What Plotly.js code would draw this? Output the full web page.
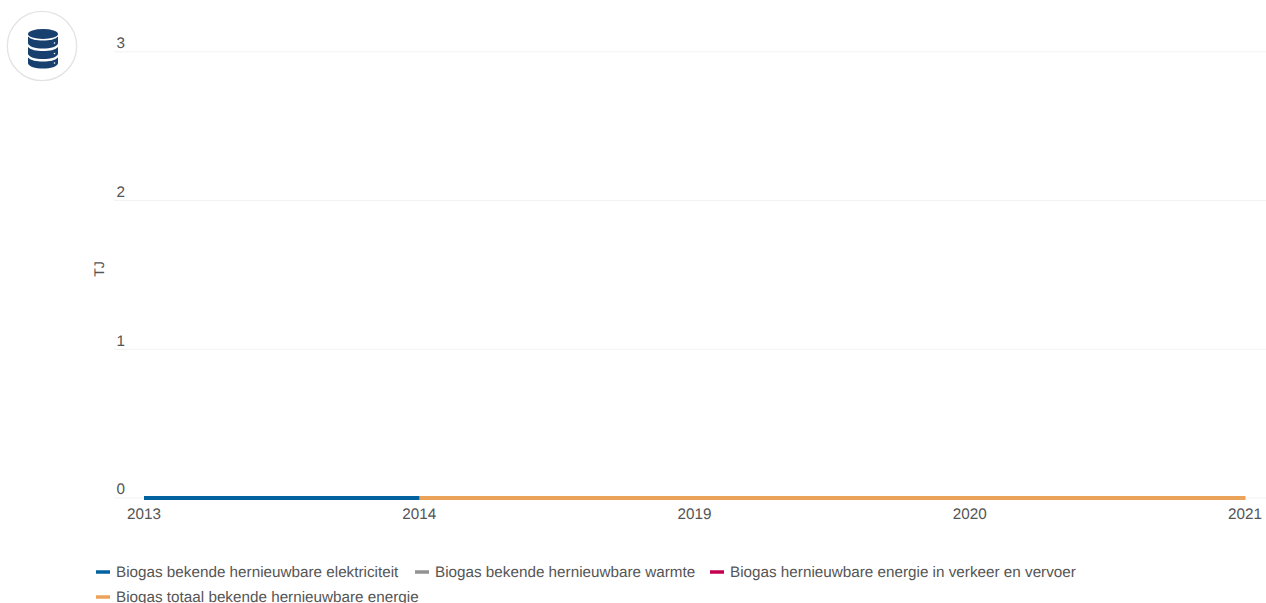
<!DOCTYPE html>
<html>
<head>
<meta charset="utf-8">
<script src="https://cdn.plot.ly/plotly-3.0.1.min.js"></script>
<style>
html,body{margin:0;padding:0;background:#fff;overflow:hidden;width:1266px;height:603px}
#chart{position:absolute;left:0;top:0;width:1266px;height:640px}
#icon{position:absolute;left:6px;top:10px;width:72px;height:72px}
#chart text{text-rendering:geometricPrecision}
</style>
</head>
<body>
<div id="chart"></div>
<svg id="icon" viewBox="0 0 72 72">
  <circle cx="36" cy="36" r="34.7" fill="#fff" stroke="#e3e3e3" stroke-width="1.3"/>
  <g fill="#17406f">
    <ellipse cx="37" cy="24" rx="15" ry="5"/>
    <path d="M22 26.5c3 3 8 4 15 4s12-1 15-4v7c-1 3-7 5-15 5s-14-2-15-5z"/>
    <path d="M22 37c3 3 8 4 15 4s12-1 15-4v7c-1 3-7 5-15 5s-14-2-15-5z"/>
    <path d="M22 47.500c3 3 8 4 15 4s12-1 15-4v6c-1 3-7 5-15 5s-14-2-15-5z"/>
  </g>
  <g fill="#fff"><circle cx="48.500" cy="33" r=".8"/><circle cx="48.500" cy="43.500" r=".8"/><circle cx="48.500" cy="53" r=".8"/></g>
</svg>
<script>
const years = ['2013','2014','2019','2020','2021'];
const elektriciteit = [0,0,0,0,0];
const warmte = [null,0,0,0,0];
const verkeer = [null,0,0,0,0];
const totaal = [null,0,0,0,0];
const yTicks = [0,1,2,3];
const names = ['Biogas bekende hernieuwbare elektriciteit','Biogas bekende hernieuwbare warmte','Biogas hernieuwbare energie in verkeer en vervoer','Biogas totaal bekende hernieuwbare energie'];
const colors = ['#0063a0','#929292','#c4004f','#eba359'];
const seriesValues = [elektriciteit,warmte,verkeer,totaal];
const font = {family:'"Liberation Sans", Arial, sans-serif',size:15.25,color:'#555555'};

const traces = seriesValues.map((v,i)=>({
  type:'scatter',mode:'lines',x:years,y:v,name:names[i],
  line:{color:colors[i],width:4},connectgaps:false,cliponaxis:false
}));

const padTop = 0.16, padBot = 0.08, unit = 148.5;
const layout = {
  width:1266,height:640,
  margin:{l:114,r:0,t:52.2-padTop*unit,b:142.3-padBot*unit,pad:0},
  paper_bgcolor:'#fff',plot_bgcolor:'#fff',
  font:font,showlegend:true,
  hovermode:'x',
  shapes:yTicks.map(t=>({type:'line',layer:'below',xref:'paper',x0:0,x1:1,yref:'y',y0:t,y1:t,line:{color:'#f2f2f2',width:1}})),
  xaxis:{type:'category',categoryorder:'array',categoryarray:years,range:[-0.109,4.076],
    anchor:'free',position:padBot/(3+padTop+padBot),
    showgrid:false,zeroline:false,showline:false,
    ticks:'',tickfont:font,ticklabelstandoff:5,automargin:false},
  yaxis:{range:[-padBot,3+padTop],tickvals:yTicks,ticktext:yTicks.map(String),
    showgrid:false,zeroline:false,showline:false,
    ticks:'',tickfont:font,ticklabelposition:'outside',ticklabelstandoff:-12,ticklabelshift:-9,
    title:{text:'TJ',font:{family:font.family,size:14,color:'#555555'},standoff:8},automargin:false},
  legend:{orientation:'h',x:0,xanchor:'left',xref:'container',y:0.135,yanchor:'top',yref:'container',
    font:font,bgcolor:'rgba(0,0,0,0)',entrywidthmode:'pixels',entrywidth:300,itemwidth:30,traceorder:'normal',itemclick:false,itemdoubleclick:false}
};

// Legend layout of the source: short keys, three entries on the first row
const keyX = [96,415,710,96], rowY = [572,572,572,597];
function tidyLegend(){
  const g = document.querySelectorAll('#chart .legend .traces');
  const lg = document.querySelector('#chart .legend');
  if(lg){ lg.setAttribute('transform','translate(0,0)');
    lg.querySelectorAll('.legendtoggle').forEach(t=>t.setAttribute('width','0'));
    const bg=lg.querySelector('.bg'); if(bg) bg.style.display='none';
    const sb=lg.querySelector('.scrollbox'); if(sb) {sb.setAttribute('transform','translate(0,0)'); sb.removeAttribute('clip-path'); sb.style.clipPath='none';}
    lg.querySelectorAll('.groups').forEach(x=>x.setAttribute('transform','translate(0,0)'));
  }
  g.forEach((t,i)=>{
    t.setAttribute('transform',`translate(${keyX[i]},${rowY[i]})`);
    const p=t.querySelector('.legendlines path'); if(p){p.setAttribute('d','M0,0h14'); p.style.strokeWidth='3.5px';}
    const tx=t.querySelector('text.legendtext'); if(tx){tx.setAttribute('x','20'); tx.setAttribute('y','5');}
  });
}
Plotly.newPlot('chart',traces,layout,{displayModeBar:false,responsive:false}).then(gd=>{
  tidyLegend();
  gd.on('plotly_afterplot',tidyLegend);
});
</script>
</body>
</html>
